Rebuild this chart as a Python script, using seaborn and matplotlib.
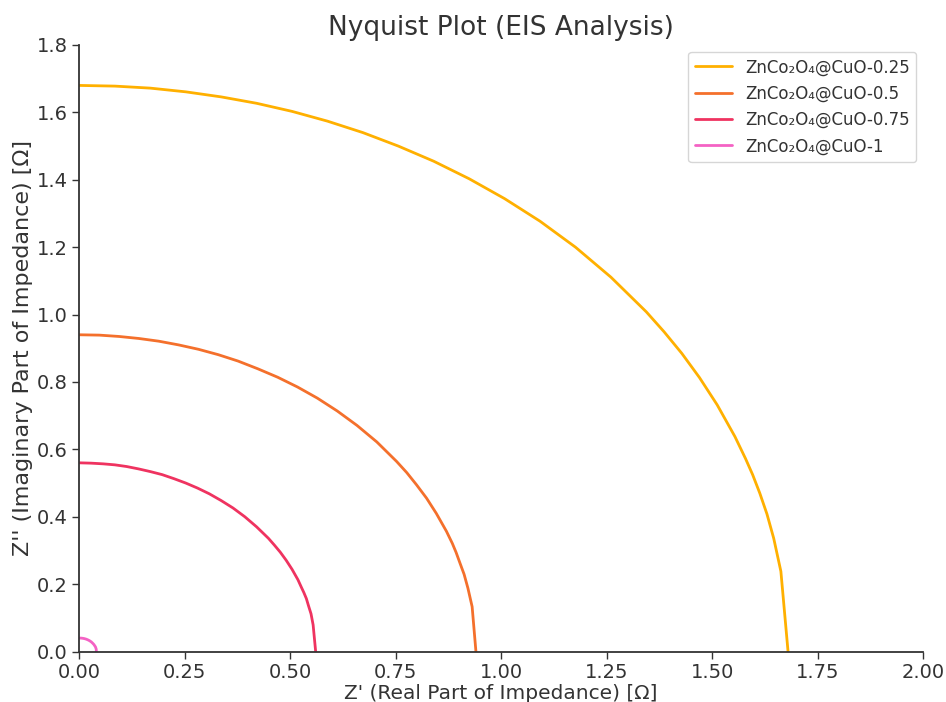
import matplotlib
matplotlib.use("Agg")
import matplotlib.pyplot as plt
import seaborn as sns
import pandas as pd

# ---- data (Z' real, Z'' imaginary) ----
labels = ["ZnCo₂O₄@CuO-0.25", "ZnCo₂O₄@CuO-0.5", "ZnCo₂O₄@CuO-0.75", "ZnCo₂O₄@CuO-1"]
colors = ["#FFB000", "#F4702C", "#EF3360", "#F462C4"]

z_real_025 = [0, 0.084, 0.168, 0.252, 0.336, 0.42, 0.504, 0.588, 0.672, 0.756, 0.84, 0.924, 1.008, 1.092,
              1.176, 1.26, 1.344, 1.386, 1.428, 1.47, 1.512, 1.554, 1.579, 1.596, 1.613, 1.630, 1.646, 1.663, 1.68]
z_imag_025 = [1.68, 1.678, 1.672, 1.661, 1.646, 1.627, 1.603, 1.574, 1.540, 1.500, 1.455, 1.403, 1.344, 1.277,
              1.200, 1.111, 1.008, 0.949, 0.885, 0.813, 0.732, 0.638, 0.573, 0.525, 0.470, 0.408, 0.336, 0.238, 0]

z_real_05 = [0, 0.047, 0.094, 0.141, 0.188, 0.235, 0.282, 0.329, 0.376, 0.423, 0.47, 0.517, 0.564, 0.611,
             0.658, 0.705, 0.752, 0.776, 0.799, 0.823, 0.846, 0.870, 0.884, 0.893, 0.902, 0.912, 0.921, 0.931, 0.94]
z_imag_05 = [0.94, 0.939, 0.935, 0.929, 0.921, 0.910, 0.897, 0.881, 0.862, 0.839, 0.814, 0.785, 0.752, 0.714,
             0.671, 0.622, 0.564, 0.531, 0.495, 0.455, 0.410, 0.357, 0.321, 0.294, 0.263, 0.229, 0.188, 0.133, 0]

z_real_075 = [0, 0.028, 0.056, 0.084, 0.112, 0.14, 0.168, 0.196, 0.224, 0.252, 0.28, 0.308, 0.336, 0.364,
              0.392, 0.42, 0.448, 0.462, 0.476, 0.49, 0.504, 0.518, 0.526, 0.532, 0.538, 0.543, 0.549, 0.554, 0.56]
z_imag_075 = [0.56, 0.559, 0.557, 0.554, 0.549, 0.542, 0.534, 0.525, 0.513, 0.500, 0.485, 0.468, 0.448, 0.426,
              0.400, 0.370, 0.336, 0.316, 0.295, 0.271, 0.244, 0.213, 0.191, 0.175, 0.157, 0.136, 0.112, 0.079, 0]

z_real_1 = [0, 0.004, 0.008, 0.012, 0.016, 0.02, 0.024, 0.028, 0.031, 0.034, 0.036, 0.038, 0.039, 0.0395, 0.0398, 0.04]
z_imag_1 = [0.04, 0.0398, 0.0392, 0.0382, 0.0367, 0.0346, 0.032, 0.0286, 0.025, 0.0211, 0.0174, 0.0136, 0.0098, 0.008, 0.0057, 0]

series = [(z_real_025, z_imag_025), (z_real_05, z_imag_05), (z_real_075, z_imag_075), (z_real_1, z_imag_1)]

x_ticks = [0.00, 0.25, 0.50, 0.75, 1.00, 1.25, 1.50, 1.75, 2.00]
y_ticks = [0.0, 0.2, 0.4, 0.6, 0.8, 1.0, 1.2, 1.4, 1.6, 1.8]

rows = []
for lab, (xs, ys) in zip(labels, series):
    for i, (xv, yv) in enumerate(zip(xs, ys)):
        rows.append({"sample": lab, "order": i, "Zre": xv, "Zim": yv})
df = pd.DataFrame(rows)

sns.set_style("ticks")
plt.rcParams["font.family"] = ["DejaVu Sans"]
plt.rcParams["text.color"] = "#333333"
plt.rcParams["axes.labelcolor"] = "#333333"
plt.rcParams["xtick.color"] = "#333333"
plt.rcParams["ytick.color"] = "#333333"

fig = plt.figure(figsize=(9.46, 7.02), dpi=100)
ax = fig.add_axes([0.0840, 0.0719, 0.9757 - 0.0840, 0.9359 - 0.0719])

sns.lineplot(data=df, x="Zre", y="Zim", hue="sample", hue_order=labels,
             palette=dict(zip(labels, colors)), sort=False, estimator=None,
             linewidth=2, ax=ax)

ax.set_xlim(0, 2.0)
ax.set_ylim(0, 1.8)
ax.set_xticks(x_ticks)
ax.set_yticks(y_ticks)
ax.set_xticklabels([f"{v:.2f}" for v in x_ticks])
ax.set_yticklabels([f"{v:.1f}" for v in y_ticks])
ax.tick_params(labelsize=14, length=5, width=1.0)
for s in ["left", "bottom"]:
    ax.spines[s].set_color("#333333")
    ax.spines[s].set_linewidth(1.3)
sns.despine(ax=ax)

ax.set_title("Nyquist Plot (EIS Analysis)", fontsize=19, pad=7)
ax.set_xlabel("Z' (Real Part of Impedance) [Ω]", fontsize=14.5, labelpad=1)
ax.set_ylabel("Z'' (Imaginary Part of Impedance) [Ω]", fontsize=16)
ax.yaxis.set_label_coords(-0.055, 0.5)

leg = ax.legend(loc="upper right", fontsize=12, frameon=True, title=None,
                borderaxespad=0.4, handlelength=2.2)
for line in leg.get_lines():
    line.set_linewidth(2)

fig.savefig("out.png", dpi=100)
